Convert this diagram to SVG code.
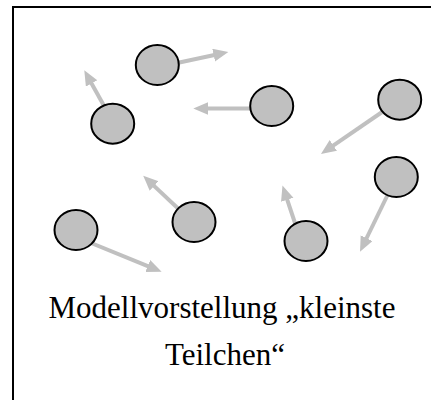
<svg xmlns="http://www.w3.org/2000/svg" width="431" height="400" viewBox="0 0 431 400">
<style>
.frame{fill:#fff;stroke:#000;stroke-width:2}
.p{fill:#c0c0c0;stroke:#000;stroke-width:2}
.a{stroke:#c0c0c0;stroke-width:4;fill:none;marker-end:url(#ah)}
.t{font-family:"Liberation Serif","Times New Roman",serif;font-size:31px;fill:#000;text-anchor:middle}
</style>
<defs>
<marker id="ah" markerUnits="userSpaceOnUse" markerWidth="16" markerHeight="14" refX="2" refY="6.5" orient="auto">
<path d="M0,0 L15,6.5 L0,13 z" fill="#c0c0c0"/>
</marker>
</defs>
<rect class="frame" x="13" y="7" width="430" height="400"/>
<g id="connectors">
<line class="a" x1="170" y1="64.5" x2="215.6" y2="54.7"/>
<line class="a" x1="108" y1="113" x2="90.6" y2="81.7"/>
<line class="a" x1="255" y1="108.5" x2="206.3" y2="108.5"/>
<line class="a" x1="388" y1="108" x2="331.7" y2="146.6"/>
<line class="a" x1="390" y1="190" x2="365.7" y2="240"/>
<line class="a" x1="85" y1="240.5" x2="149.6" y2="266.8"/>
<line class="a" x1="185" y1="215" x2="152.7" y2="184.6"/>
<line class="a" x1="299" y1="235" x2="286.6" y2="197.9"/>
</g>
<g id="p1"><ellipse class="p" cx="157.3" cy="65" rx="21.5" ry="20"/></g>
<g id="p2"><ellipse class="p" cx="112.7" cy="123.7" rx="21.5" ry="20"/></g>
<g id="p3"><ellipse class="p" cx="271.7" cy="106" rx="21.5" ry="20"/></g>
<g id="p4"><ellipse class="p" cx="399.7" cy="99.7" rx="21.5" ry="20"/></g>
<g id="p5"><ellipse class="p" cx="396.3" cy="177" rx="21.5" ry="20"/></g>
<g id="p6"><ellipse class="p" cx="76" cy="230" rx="21.5" ry="20"/></g>
<g id="p7"><ellipse class="p" cx="194" cy="222" rx="21.5" ry="20"/></g>
<g id="p8"><ellipse class="p" cx="306" cy="241" rx="21.5" ry="20"/></g>
<g id="label">
<text class="t" x="222" y="318">Modellvorstellung „kleinste</text>
<text class="t" x="225" y="365">Teilchen“</text>
</g>
</svg>
